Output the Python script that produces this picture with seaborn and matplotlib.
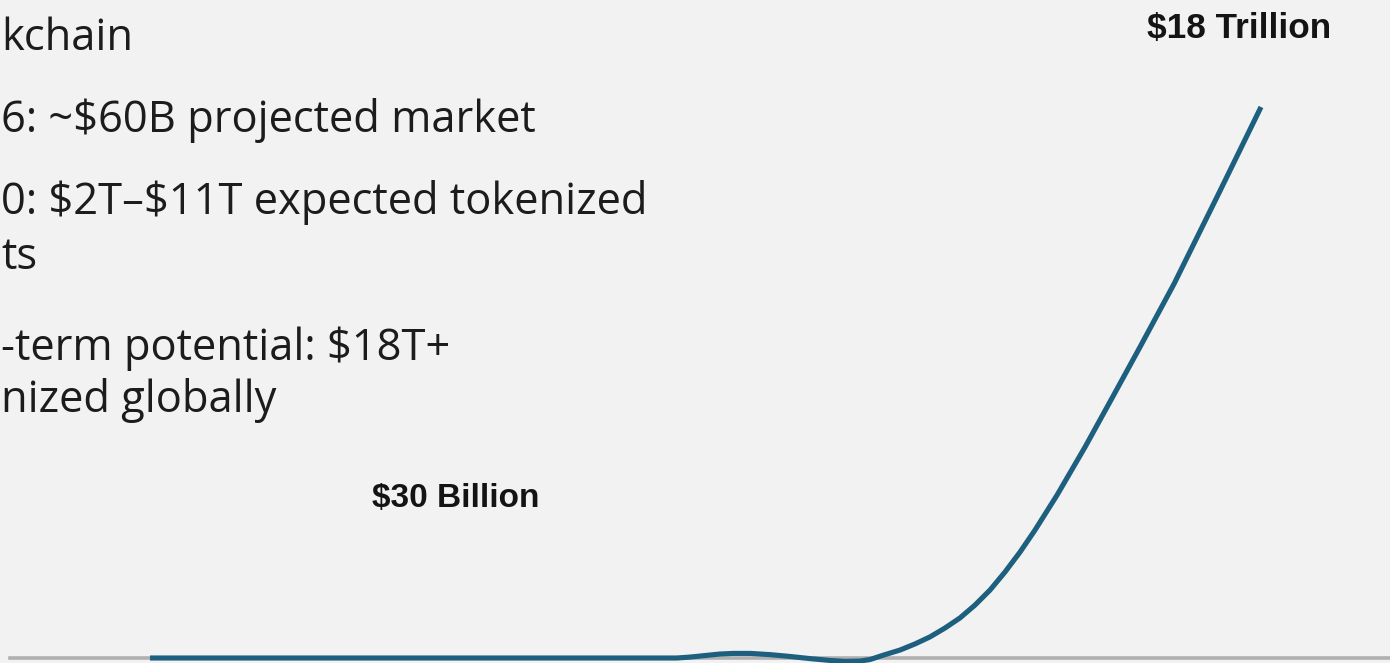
import matplotlib
matplotlib.use("Agg")
import matplotlib.pyplot as plt
import seaborn as sns
import pandas as pd

# ---- data ----
# time index along the (unlabelled) horizontal axis, 0 = start of the curve, 100 = end
time_index = [0.0, 13.5, 27.0, 40.5, 47.43, 48.60, 49.95, 51.31, 52.48, 54.01,
              55.81, 57.61, 59.41, 61.21, 62.56, 63.91, 64.81, 66.07, 67.51,
              68.86, 70.21, 71.56, 72.91, 74.26, 75.61, 76.96, 78.31, 79.66,
              81.64, 84.16, 86.59, 89.11, 92.17, 96.31, 100.0]
# market value, $ trillions
value_trillions = [0.0, 0.0, 0.0, 0.0, 0.0, 0.03, 0.08, 0.13, 0.15, 0.15,
                   0.11, 0.05, -0.02, -0.08, -0.11, -0.10, -0.05, 0.10, 0.26,
                   0.46, 0.69, 0.98, 1.31, 1.73, 2.22, 2.81, 3.46, 4.18,
                   5.32, 6.89, 8.49, 10.16, 12.22, 15.26, 18.0]

label_start = "$30 Billion"
label_end = "$18 Trillion"

bullet_lines = [
    "kchain",
    "6: ~$60B projected market",
    "0: $2T\u2013$11T expected tokenized",
    "ts",
    "-term potential: $18T+",
    "nized globally",
]

# ---- layout ----
W, H = 1390, 663
sns.set_theme(style="white")
plt.rcParams["font.family"] = ["Open Sans", "DejaVu Sans"]

fig = plt.figure(figsize=(W / 100, H / 100), dpi=100)
fig.patch.set_facecolor("#f2f2f2")
ax = fig.add_axes([0, 0, 1, 1])
ax.set_facecolor("#f2f2f2")

# pixel <-> data mapping of the plotting area
x0_px, x1_px = 150, 1261          # where t=0 and t=100 sit
base_px, top_px = 658, 107        # where v=0 and v=18 sit
px_per_t = (x1_px - x0_px) / 100.0
px_per_v = (base_px - top_px) / 18.0
ax.set_xlim((0 - x0_px) / px_per_t, (W - x0_px) / px_per_t)
ax.set_ylim((base_px - H) / px_per_v, base_px / px_per_v)

df = pd.DataFrame({"t": time_index, "v": value_trillions})
sns.lineplot(data=df, x="t", y="v", color="#1d5f7e", linewidth=3.7,
             ax=ax, zorder=4, sort=False)
for ln in ax.get_lines():
    ln.set_solid_joinstyle("round")
    ln.set_solid_capstyle("butt")

# axis baseline
for s in ["top", "right", "left"]:
    ax.spines[s].set_visible(False)
ax.spines["bottom"].set_position(("data", 0))
ax.spines["bottom"].set_color("#b0b0b0")
ax.spines["bottom"].set_linewidth(2.6)
ax.spines["bottom"].set_bounds((10 - x0_px) / px_per_t, (W - x0_px) / px_per_t)
ax.set_xticks([])
ax.set_yticks([])
ax.set_xlabel("")
ax.set_ylabel("")


def fx(px):
    return px / W


def fy(py):
    return 1 - py / H


# bold value labels
fig.text(fx(372), fy(507), label_start, family=["Liberation Sans", "DejaVu Sans"],
         weight="bold", fontsize=24, color="#141414", va="baseline", ha="left",
         parse_math=False)
fig.text(fx(1147), fy(38), label_end, family=["Liberation Sans", "DejaVu Sans"],
         weight="bold", fontsize=25.3, color="#141414", va="baseline", ha="left",
         parse_math=False)

# bullet text (the slide's text runs off the left edge in the picture)
bullet_y = [50, 132, 214, 269, 360, 412]
for txt, by in zip(bullet_lines, bullet_y):
    fig.text(fx(1), fy(by), txt, fontsize=31.3, color="#1c1c1c",
             va="baseline", ha="left", parse_math=False)

fig.savefig("out.png", dpi=100, facecolor=fig.get_facecolor())
